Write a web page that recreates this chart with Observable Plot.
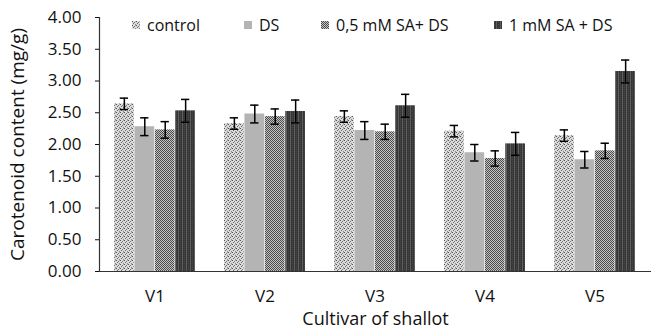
<!DOCTYPE html>
<html><head><meta charset="utf-8">
<script src="https://cdn.jsdelivr.net/npm/d3@7"></script>
<script src="https://cdn.jsdelivr.net/npm/@observablehq/plot@0.6"></script>
<style>
body{margin:0;background:#fff}
#wrap{position:relative;width:651px;height:328px;font-family:"Open Sans",sans-serif;color:#111}
.leg{position:absolute;top:15px;font-size:16px;display:flex;align-items:center;white-space:nowrap;line-height:20px}
.leg svg{margin-right:7px}
</style>
</head><body>
<svg width="0" height="0" style="position:absolute">
<defs>
<pattern id="pc" width="4" height="4" patternUnits="userSpaceOnUse">
<rect width="4" height="4" fill="#dcdcdc"/>
<rect x="0" y="0" width="1" height="1" fill="#555"/>
<rect x="2" y="1" width="1" height="1" fill="#777"/>
<rect x="1" y="2" width="1" height="1" fill="#666"/>
<rect x="3" y="3" width="1" height="1" fill="#888"/>
<rect x="3" y="0" width="1" height="1" fill="#aaa"/>
</pattern>
<pattern id="pm" width="2" height="2" patternUnits="userSpaceOnUse">
<rect width="2" height="2" fill="#c4c4c4"/>
<rect x="0" y="0" width="1" height="1" fill="#4a4a4a"/>
<rect x="1" y="1" width="1" height="1" fill="#4a4a4a"/>
</pattern>
<pattern id="p1" width="4" height="2" patternUnits="userSpaceOnUse">
<rect width="4" height="2" fill="#363636"/>
<rect x="2" y="0" width="1" height="2" fill="#5e5e5e"/>
<rect x="0" y="1" width="1" height="1" fill="#4a4a4a"/>
</pattern>
</defs>
</svg>
<div id="wrap"></div>
<script>
const cultivars = ["V1","V2","V3","V4","V5"];
const seriesNames = ["control","DS","0,5 mM SA+ DS","1 mM SA + DS"];
const controlVals = [2.64,2.33,2.44,2.21,2.14];
const controlErr  = [0.09,0.09,0.09,0.09,0.09];
const dsVals = [2.28,2.48,2.22,1.87,1.76];
const dsErr  = [0.14,0.14,0.14,0.13,0.13];
const sa05Vals = [2.23,2.44,2.20,1.78,1.90];
const sa05Err  = [0.13,0.12,0.12,0.12,0.12];
const sa1Vals = [2.53,2.52,2.61,2.01,3.15];
const sa1Err  = [0.18,0.18,0.18,0.18,0.18];
const yTicks = [0,0.5,1,1.5,2,2.5,3,3.5,4];

const fills = ["url(#pc)","#b4b4b4","url(#pm)","url(#p1)"];
const allVals = [controlVals, dsVals, sa05Vals, sa1Vals];
const allErr = [controlErr, dsErr, sa05Err, sa1Err];

const tables = allVals.map((vals, s) => cultivars.map((c, i) => ({
  cultivar: c, series: seriesNames[s], value: vals[i], err: allErr[s][i]
})));

const width = 651, height = 328, mL = 99, mR = 0;
const pInner = 0.26, pOuter = 0.13;
const step = (width - mL - mR) / (cultivars.length - pInner + 2 * pOuter);
const bandW = step * (1 - pInner);
const bw = bandW / 4;
const capHalf = 4.5;

const marks = [];
tables.forEach((t, s) => {
  marks.push(Plot.barY(t, {x: "cultivar", y: "value", fill: fills[s],
    insetLeft: s * bw, insetRight: (3 - s) * bw}));
});
tables.forEach((t, s) => {
  const dx = (s - 1.5) * bw;
  marks.push(Plot.ruleX(t, {x: "cultivar", y1: d => d.value - d.err, y2: d => d.value + d.err,
    dx, stroke: "#000", strokeWidth: 1.5}));
  marks.push(Plot.tickY(t, {x: "cultivar", y: d => d.value + d.err,
    insetLeft: s * bw + bw / 2 - capHalf, insetRight: (3 - s) * bw + bw / 2 - capHalf, stroke: "#000", strokeWidth: 1.5}));
  marks.push(Plot.tickY(t, {x: "cultivar", y: d => d.value - d.err,
    insetLeft: s * bw + bw / 2 - capHalf, insetRight: (3 - s) * bw + bw / 2 - capHalf, stroke: "#000", strokeWidth: 1.5}));
});
marks.push(Plot.ruleY([0], {stroke: "#333", strokeWidth: 1.2}));
marks.push(Plot.frame({anchor: "left", stroke: "#333", strokeWidth: 1.2}));
marks.push(Plot.axisY({ticks: yTicks, tickFormat: d3.format(".2f"), tickSize: 4, tickPadding: 14,
  fontSize: 17, label: "Carotenoid content (mg/g)", labelAnchor: "center", labelArrow: "none",
  labelOffset: 89}));
marks.push(Plot.axisX({tickSize: 0, tickPadding: 18, fontSize: 17,
  label: "Cultivar of shallot", labelAnchor: "center", labelArrow: "none", labelOffset: 53}));

const chart = Plot.plot({
  width, height, marginLeft: mL, marginRight: mR, marginTop: 17, marginBottom: 57,
  style: {fontFamily: '"Open Sans", sans-serif', fontSize: "17px", color: "#111", background: "#fff"},
  x: {domain: cultivars, paddingInner: pInner, paddingOuter: pOuter},
  y: {domain: [0, 4]},
  marks
});
d3.select(chart).selectAll("[aria-label='y-axis label'] text").style("font-size", "19px");
d3.select(chart).selectAll("[aria-label='x-axis label'] text").style("font-size", "18px");
const wrap = document.getElementById("wrap");
wrap.appendChild(chart);

const legX = [132, 244, 321, 494];
seriesNames.forEach((n, s) => {
  const d = document.createElement("div");
  d.className = "leg";
  d.style.left = legX[s] + "px";
  d.innerHTML = `<svg width="8" height="8"><rect width="8" height="8" fill="${fills[s]}"/></svg><span>${n}</span>`;
  wrap.appendChild(d);
});
</script>
</body></html>
